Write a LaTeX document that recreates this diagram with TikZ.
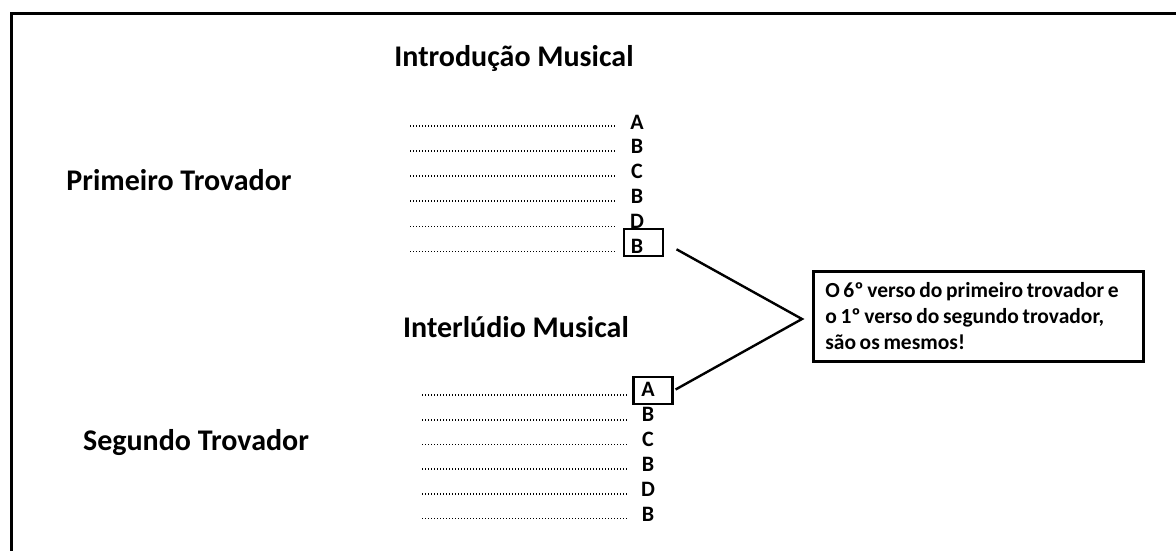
\documentclass[tikz,border=0pt]{standalone}
\usepackage{fontspec}
\setmainfont{Carlito}
\newcommand\mynotespace{\spaceskip=0.17em plus 0.02em\relax}
\begin{document}
\begin{tikzpicture}[x=1pt,y=-1pt,
  title/.style={font=\fontsize{30}{36}\selectfont\bfseries, inner sep=0pt},
  letter/.style={font=\fontsize{22}{24}\selectfont\bfseries, inner sep=0pt},
  dotline/.style={line width=1.7pt, dash pattern=on 1.3pt off 1.7pt, black},
  markbox/.style={draw, line width=2.6pt, minimum width=39pt, minimum height=27pt, inner sep=0pt},
  notebox/.style={draw, line width=2.6pt, minimum width=330pt, minimum height=90pt, text width=306pt, align=left, inner xsep=12pt, inner ysep=0pt, font=\fontsize{21.5}{26}\selectfont\bfseries},
  link/.style={line width=2.4pt}
]
\useasboundingbox (0,0) rectangle (1176,550);
% frame
\draw[line width=3pt] (11,560) -- (11,13) -- (1190,13);
% titles
\node[title] (intro) at (514,58) {Introdução Musical};
\node[title] (prim) at (179,180) {Primeiro Trovador};
\node[title] (inter) at (516,327) {Interlúdio Musical};
\node[title] (seg) at (196,443) {Segundo Trovador};
% first group
\foreach \i/\l in {0/A,1/B,2/C,3/B,4/D,5/B}{
  \draw[dotline] (410,{126+25.1*\i}) -- (615,{126+25.1*\i});
  \node[letter] (p\i) at (637,{122+24.8*\i}) {\l};
}
% second group
\foreach \i/\l in {0/A,1/B,2/C,3/B,4/D,5/B}{
  \draw[dotline] (422,{395+24.7*\i}) -- (627,{395+24.7*\i});
  \node[letter] (s\i) at (648,{389+25*\i}) {\l};
}
% boxes
\node[markbox] (bB) at (643.5,242.5) {};
\node[markbox] (bA) at (653,390.5) {};
% note
\node[notebox, anchor=north west] (note) at (812,270) {\mynotespace O 6º verso do primeiro trovador e\\o 1º verso do segundo trovador,\\são os mesmos!};
\coordinate (apex) at (802,319);
\draw[link, shorten <=14pt, shorten >=2pt] (bB.east) -- (apex) -- (bA.east);
\end{tikzpicture}
\end{document}
